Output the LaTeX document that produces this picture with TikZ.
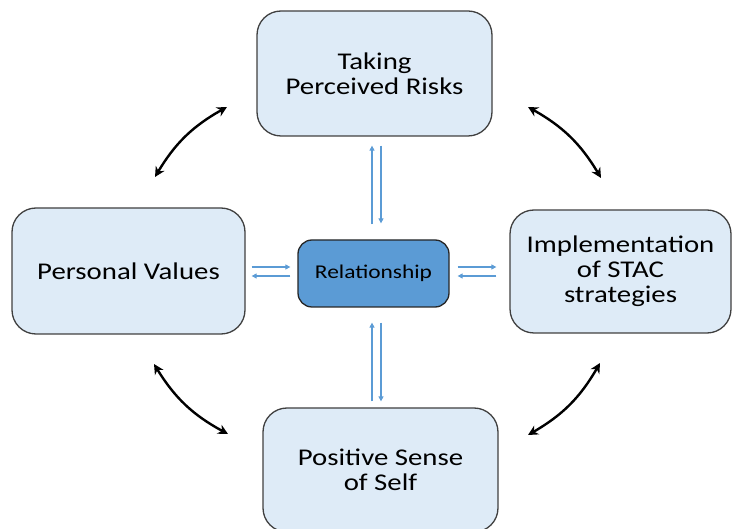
\documentclass[tikz,border=0pt]{standalone}
\usepackage{fontspec}
\setmainfont{Carlito}[FakeStretch=1.2]
\usetikzlibrary{positioning,arrows.meta}

\definecolor{boxblue}{HTML}{DEEBF7}
\definecolor{relblue}{HTML}{5B9BD5}
\definecolor{edgegray}{HTML}{404040}

\begin{document}
\begin{tikzpicture} [x=1pt,y=-1pt,
	box/.style={draw=edgegray,line width=1.3pt,fill=boxblue,rounded corners=24pt,align=center,inner sep=0pt,font=\fontsize{24}{25}\selectfont},
	relbox/.style={draw=black!85,line width=1.3pt,fill=relblue,rounded corners=14pt,inner sep=0pt,font=\fontsize{19.5}{22}\selectfont},
	flow/.style={draw=relblue,line width=1.1pt,-{Triangle[length=5pt,width=5pt]}},
	link/.style={draw=black,line width=2.4pt,{Stealth[length=10pt,width=10pt]}-{Stealth[length=10pt,width=10pt]}}]
\useasboundingbox (0,0) rectangle (732,529);

\node[box,minimum width=235pt,minimum height=125pt] (risks) at (374.5,73.5) {Taking\\Perceived Risks};
\node[box,minimum width=233pt,minimum height=126pt] (values) at (128.5,271) {Personal Values};
\node[box,minimum width=221pt,minimum height=123pt] (stac) at (620.5,271.5) {Implementation\\of STAC\\strategies};
\node[box,minimum width=235pt,minimum height=124pt] (self) at (380.5,470) {Positive Sense\\of Self};
\node[relbox,minimum width=151pt,minimum height=67pt] (rel) at (373.5,273.5) {Relationship};

% arrows to and from the centre
\draw[flow,shorten <=15pt,shorten >=9pt] ([xshift=-1.5pt]rel.north) -- ([xshift=-1.5pt]rel.north |- risks.south);
\draw[flow,shorten <=9pt,shorten >=16pt] ([xshift=7.5pt]rel.north |- risks.south) -- ([xshift=7.5pt]rel.north);
\draw[flow,shorten <=6pt,shorten >=15pt] ([xshift=-1.5pt]rel.south |- self.north) -- ([xshift=-1.5pt]rel.south);
\draw[flow,shorten <=15pt,shorten >=6pt] ([xshift=7.5pt]rel.south) -- ([xshift=7.5pt]rel.south |- self.north);
\draw[flow,shorten <=6pt,shorten >=7pt] ([yshift=6.5pt]values.east |- rel.west) -- ([yshift=6.5pt]rel.west);
\draw[flow,shorten <=7pt,shorten >=6pt] ([yshift=-2.5pt]rel.west) -- ([yshift=-2.5pt]values.east |- rel.west);
\draw[flow,shorten <=8pt,shorten >=13pt] ([yshift=6.5pt]rel.east) -- ([yshift=6.5pt]stac.west |- rel.east);
\draw[flow,shorten <=13pt,shorten >=8pt] ([yshift=-2.5pt]stac.west |- rel.east) -- ([yshift=-2.5pt]rel.east);

% curved links between the outer boxes
\coordinate (a1) at (155,177); \coordinate (b1) at (227,107);
\coordinate (a2) at (528,107); \coordinate (b2) at (601,178);
\coordinate (a3) at (600,363); \coordinate (b3) at (528,435);
\coordinate (a4) at (228,434); \coordinate (b4) at (154,364);
\foreach \i in {1,...,4}
	\draw[link] (a\i) to[bend left=15] (b\i);

\end{tikzpicture}
\end{document}
